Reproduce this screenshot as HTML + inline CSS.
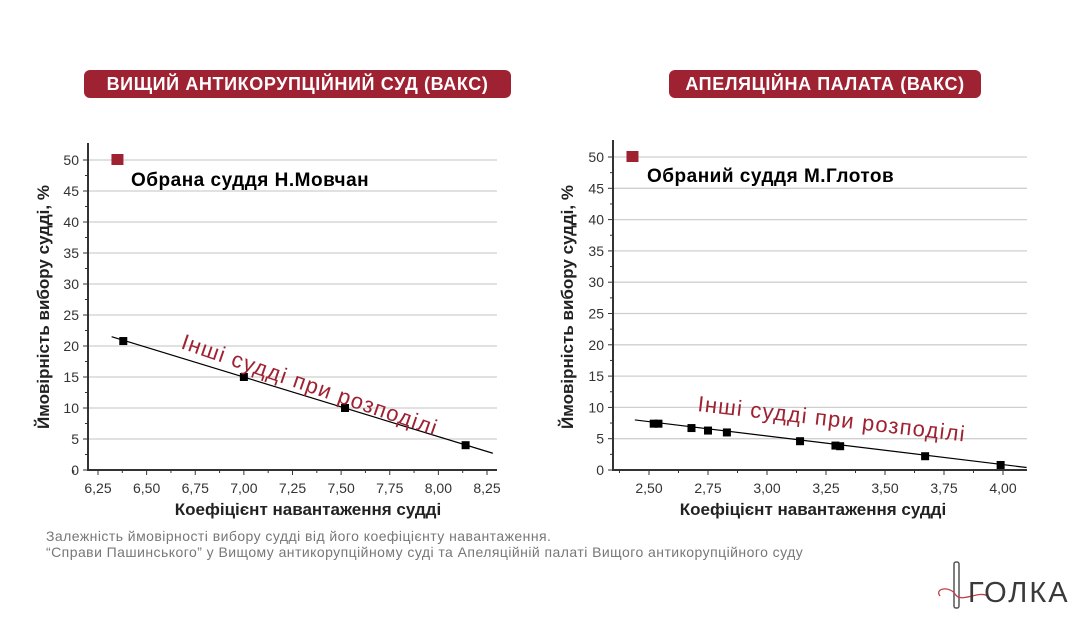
<!DOCTYPE html>
<html><head><meta charset="utf-8">
<style>
html,body{margin:0;padding:0;background:#fff;}
body{width:1080px;height:628px;position:relative;overflow:hidden;font-family:"Liberation Sans","DejaVu Sans",sans-serif;}
.badge{position:absolute;background:#9e2232;color:#fff;font-weight:bold;font-size:18px;letter-spacing:0.6px;border-radius:6px;text-align:center;line-height:28px;height:28px;white-space:nowrap;}
.cap{position:absolute;left:46px;top:528px;font-size:14px;letter-spacing:0.45px;color:#777;line-height:16px;white-space:nowrap;}
</style></head><body>
<div class="badge" style="left:84px;top:70px;width:427px;">ВИЩИЙ АНТИКОРУПЦІЙНИЙ СУД (ВАКС)</div>
<div class="badge" style="left:669px;top:70px;width:312px;">АПЕЛЯЦІЙНА ПАЛАТА (ВАКС)</div>
<svg id="chart" width="1080" height="628" style="position:absolute;left:0;top:0"></svg>
<div class="cap">Залежність ймовірності вибору судді від його коефіцієнту навантаження.<br>“Справи Пашинського” у Вищому антикорупційному суді та Апеляційній палаті Вищого антикорупційного суду</div>
<div style="position:absolute;left:930px;top:558px;width:150px;height:60px;">
<svg width="150" height="60">
<rect x="24" y="4" width="5" height="46" rx="2" fill="none" stroke="#555" stroke-width="1.5"/>
<path d="M10 38 C4 30 20 28 25 36 C31 46 48 32 58 38" fill="none" stroke="#c0404a" stroke-width="1.3"/>
<text x="38" y="44" font-size="29" fill="#3a3a3a" font-family="Liberation Sans,sans-serif" letter-spacing="2">ГОЛКА</text>
</svg></div>
<script>
// left chart data
const leftX=[6.38,7.00,7.52,8.14];
const leftY=[20.8,15.0,10.0,4.0];
const leftTrendX=[6.32,8.28];
const leftTrendY=[21.5,2.7];
const leftSelX=[6.35];const leftSelY=[50];
const leftTicksX=[6.25,6.5,6.75,7.0,7.25,7.5,7.75,8.0,8.25];
const leftTickLabels=["6,25","6,50","6,75","7,00","7,25","7,50","7,75","8,00","8,25"];
// right chart data
const rightX=[2.52,2.54,2.68,2.75,2.83,3.14,3.29,3.31,3.67,3.99];
const rightY=[7.4,7.4,6.7,6.3,6.0,4.6,3.9,3.8,2.2,0.8];
const rightTrendX=[2.44,4.10];
const rightTrendY=[8.0,0.4];
const rightSelX=[2.43];const rightSelY=[50];
const rightTicksX=[2.5,2.75,3.0,3.25,3.5,3.75,4.0];
const rightTickLabels=["2,50","2,75","3,00","3,25","3,50","3,75","4,00"];
const yTicks=[0,5,10,15,20,25,30,35,40,45,50];

const svg=document.getElementById('chart');
const NS='http://www.w3.org/2000/svg';
function mk(t,a,txt){const e=document.createElementNS(NS,t);for(const k in a)e.setAttribute(k,a[k]);if(txt!==undefined)e.textContent=txt;svg.appendChild(e);return e;}

function drawChart(o){
  const xs=v=>o.x0px+(v-o.x0v)*o.kx;
  const ys=v=>o.y0px-v*o.ky;
  yTicks.forEach(t=>{
    if(t>0){const g=mk('line',{x1:o.axL,x2:o.axR,y1:ys(t),y2:ys(t),stroke:'#cfcfcf','stroke-width':1.3});
    }
    mk('line',{x1:o.axL-5,x2:o.axL,y1:ys(t),y2:ys(t),stroke:'#333','stroke-width':1});
    if(t<50)mk('line',{x1:o.axL-3,x2:o.axL,y1:ys(t+2.5),y2:ys(t+2.5),stroke:'#333','stroke-width':1});
    const l=mk('text',{x:o.axL-9,y:ys(t)+5,'font-size':14,fill:'#333','text-anchor':'end'},String(t));
    
  });
  o.ticks.forEach((t,i)=>{
    mk('line',{x1:xs(t),x2:xs(t),y1:o.y0px,y2:o.y0px+5,stroke:'#333','stroke-width':1});
    mk('line',{x1:xs(t-0.125),x2:xs(t-0.125),y1:o.y0px,y2:o.y0px+3,stroke:'#333','stroke-width':1});
    const l=mk('text',{x:xs(t),y:o.y0px+23,'font-size':14,fill:'#333','text-anchor':'middle'},o.labels[i]);
    
  });
  mk('line',{x1:o.axL,x2:o.axL,y1:o.axT,y2:o.y0px+1,stroke:'#333','stroke-width':2});
  mk('line',{x1:o.axL-1,x2:o.axR,y1:o.y0px,y2:o.y0px,stroke:'#333','stroke-width':2});
  const tl=mk('line',{x1:xs(o.tx[0]),y1:ys(o.ty[0]),x2:xs(o.tx[1]),y2:ys(o.ty[1]),stroke:'#000','stroke-width':1.2});
  
  o.px.forEach((v,i)=>{
    const r=mk('rect',{x:xs(v)-4,y:ys(o.py[i])-4,width:8,height:8,fill:'#000'});
    
  });
  o.sx.forEach((v,i)=>{
    const r=mk('rect',{x:xs(v)-6,y:ys(o.sy[i])-6,width:12,height:11,fill:'#9e2232'});
    
  });
  const yt=mk('text',{x:0,y:0,'font-size':17,'font-weight':'bold',fill:'#222','text-anchor':'middle',transform:`translate(${o.ytx},${o.y0px-163}) rotate(-90)`},'Ймовірність вибору судді, %');
  
  const xt=mk('text',{x:o.xtx,y:o.y0px+45,'font-size':17,'font-weight':'bold',fill:'#222','text-anchor':'middle'},'Коефіцієнт навантаження судді');
  
  const st=mk('text',{x:o.selTx,y:o.selTy,'font-size':19,'font-weight':'bold',fill:'#000','letter-spacing':0.5},o.selText);
  
  const an=mk('text',{x:0,y:0,'font-size':22,fill:'#9e2232',transform:`translate(${o.anX},${o.anY}) rotate(${o.anR})`,'letter-spacing':1.2},'Інші судді при розподілі');
  
}
drawChart({x0px:98,x0v:6.25,kx:194.5,y0px:470,ky:6.2,axL:88,axR:497,axT:143,
  ticks:leftTicksX,labels:leftTickLabels,px:leftX,py:leftY,tx:leftTrendX,ty:leftTrendY,sx:leftSelX,sy:leftSelY,
  ytx:49,xtx:308,selText:'Обрана суддя Н.Мовчан',selTx:131,selTy:186,anX:180,anY:348,anR:19});
drawChart({x0px:649,x0v:2.5,kx:236,y0px:470,ky:6.26,axL:613,axR:1027,axT:140,
  ticks:rightTicksX,labels:rightTickLabels,px:rightX,py:rightY,tx:rightTrendX,ty:rightTrendY,sx:rightSelX,sy:rightSelY,
  ytx:573,xtx:813,selText:'Обраний суддя М.Глотов',selTx:647,selTy:182,anX:697,anY:411,anR:6.5});
</script>
</body></html>
